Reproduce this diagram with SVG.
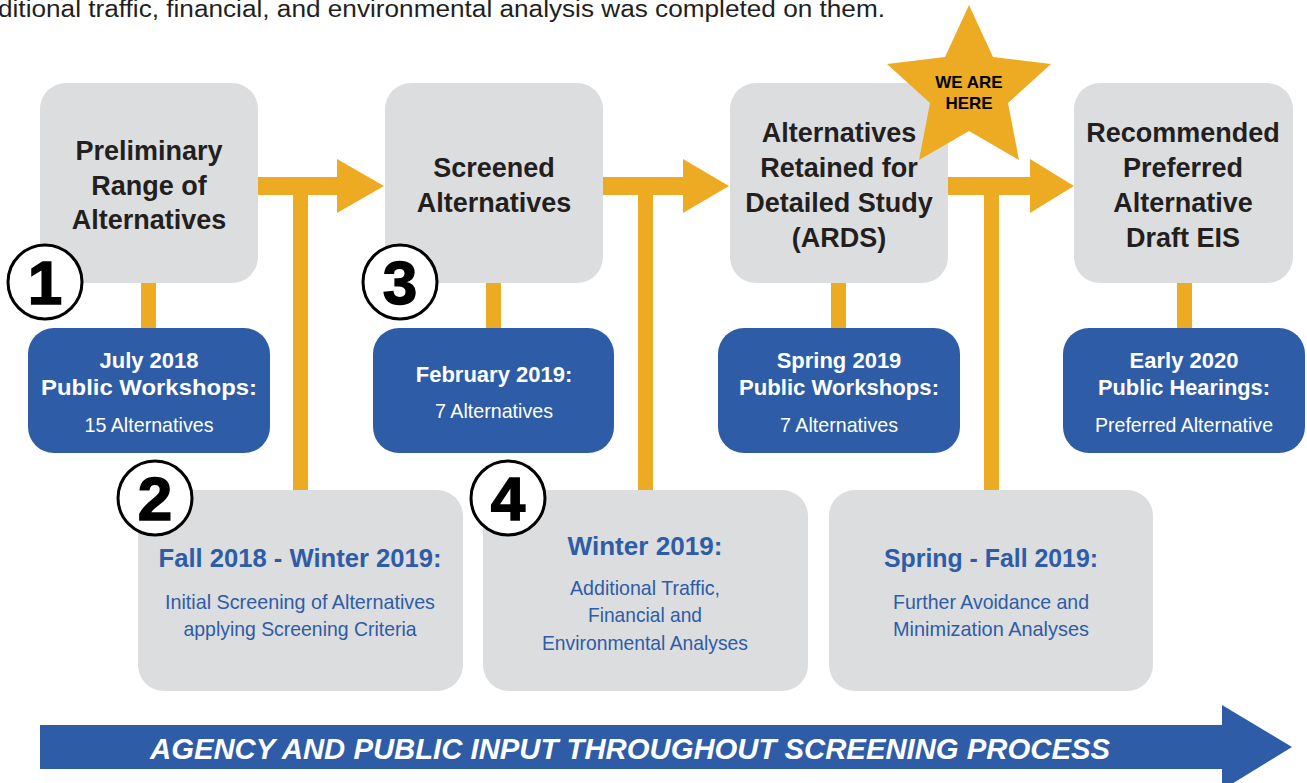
<svg xmlns="http://www.w3.org/2000/svg" width="1307" height="783" viewBox="0 0 1307 783">
<style>
.g{fill:#dcdddf}
.b{fill:#2e5ca6}
.y{fill:#ecab22}
.t{font-family:"Liberation Sans",Arial,sans-serif;font-weight:bold;font-size:27px;fill:#231f20;text-anchor:middle}
.w{font-family:"Liberation Sans",Arial,sans-serif;font-weight:bold;font-size:22px;fill:#fff;text-anchor:middle}
.wr{font-family:"Liberation Sans",Arial,sans-serif;font-size:21px;fill:#fff;text-anchor:middle}
.bh{font-family:"Liberation Sans",Arial,sans-serif;font-weight:bold;font-size:25px;fill:#2e5ca6;text-anchor:middle}
.br{font-family:"Liberation Sans",Arial,sans-serif;font-size:21px;fill:#2e5ca6;text-anchor:middle}
.c{fill:#fff;stroke:#000;stroke-width:3}
.n{font-family:"Liberation Sans",Arial,sans-serif;font-weight:bold;font-size:62px;fill:#000;text-anchor:middle;stroke:#000;stroke-width:1.5}
</style>
<rect width="1307" height="783" fill="#fff"/>
<text x="-2" y="17" font-family="Liberation Sans,Arial,sans-serif" font-size="23" fill="#231f20" textLength="887" lengthAdjust="spacingAndGlyphs">ditional traffic, financial, and environmental analysis was completed on them.</text>

<g id="connectors">
<rect class="y" x="141" y="280" width="15" height="50"/>
<rect class="y" x="486" y="280" width="15" height="50"/>
<rect class="y" x="831" y="280" width="15" height="50"/>
<rect class="y" x="1177" y="280" width="15" height="50"/>
<polygon class="y" points="256,177 337,177 337,159 384,186 337,213 337,195 308,195 308,492 293,492 293,195 256,195"/>
<polygon class="y" points="601,177 683,177 683,159 729,186 683,213 683,195 653,195 653,492 638,492 638,195 601,195"/>
<polygon class="y" points="946,177 1030,177 1030,159 1074,186 1030,213 1030,195 999,195 999,492 984,492 984,195 946,195"/>
</g>

<g id="node-preliminary">
<rect class="g" x="40" y="83" width="218" height="200" rx="26"/>
<text class="t" x="149" y="160">Preliminary</text>
<text class="t" x="149" y="195">Range of</text>
<text class="t" x="149" y="229">Alternatives</text>
</g>
<g id="node-screened">
<rect class="g" x="385" y="83" width="218" height="200" rx="26"/>
<text class="t" x="494" y="177">Screened</text>
<text class="t" x="494" y="212">Alternatives</text>
</g>
<g id="node-ards">
<rect class="g" x="730" y="83" width="218" height="200" rx="26"/>
<text class="t" x="839" y="142">Alternatives</text>
<text class="t" x="839" y="177">Retained for</text>
<text class="t" x="839" y="212">Detailed Study</text>
<text class="t" x="839" y="247">(ARDS)</text>
</g>
<g id="node-recommended">
<rect class="g" x="1074" y="83" width="219" height="200" rx="26"/>
<text class="t" x="1183" y="142">Recommended</text>
<text class="t" x="1183" y="177">Preferred</text>
<text class="t" x="1183" y="212">Alternative</text>
<text class="t" x="1183" y="247">Draft EIS</text>
</g>

<g id="node-july2018">
<rect class="b" x="28" y="328" width="242" height="125" rx="26"/>
<text class="w" x="149" y="368">July 2018</text>
<text class="w" x="149" y="395" textLength="216" lengthAdjust="spacingAndGlyphs">Public Workshops:</text>
<text class="wr" x="149" y="432" textLength="129" lengthAdjust="spacingAndGlyphs">15 Alternatives</text>
</g>
<g id="node-feb2019">
<rect class="b" x="373" y="328" width="241" height="125" rx="26"/>
<text class="w" x="494" y="382">February 2019:</text>
<text class="wr" x="494" y="418" textLength="118" lengthAdjust="spacingAndGlyphs">7 Alternatives</text>
</g>
<g id="node-spring2019">
<rect class="b" x="718" y="328" width="242" height="125" rx="26"/>
<text class="w" x="839" y="368">Spring 2019</text>
<text class="w" x="839" y="395" textLength="200" lengthAdjust="spacingAndGlyphs">Public Workshops:</text>
<text class="wr" x="839" y="432" textLength="118" lengthAdjust="spacingAndGlyphs">7 Alternatives</text>
</g>
<g id="node-early2020">
<rect class="b" x="1063" y="328" width="242" height="125" rx="26"/>
<text class="w" x="1184" y="368">Early 2020</text>
<text class="w" x="1184" y="395" textLength="172" lengthAdjust="spacingAndGlyphs">Public Hearings:</text>
<text class="wr" x="1184" y="432" textLength="178" lengthAdjust="spacingAndGlyphs">Preferred Alternative</text>
</g>

<g id="node-fall2018">
<rect class="g" x="138" y="490" width="325" height="201" rx="26"/>
<text class="bh" x="300" y="567" textLength="283" lengthAdjust="spacingAndGlyphs">Fall 2018 - Winter 2019:</text>
<text class="br" x="300" y="609" textLength="270" lengthAdjust="spacingAndGlyphs">Initial Screening of Alternatives</text>
<text class="br" x="300" y="636" textLength="233" lengthAdjust="spacingAndGlyphs">applying Screening Criteria</text>
</g>
<g id="node-winter2019">
<rect class="g" x="483" y="490" width="325" height="201" rx="26"/>
<text class="bh" x="645" y="555" textLength="155" lengthAdjust="spacingAndGlyphs">Winter 2019:</text>
<text class="br" x="645" y="595" textLength="150" lengthAdjust="spacingAndGlyphs">Additional Traffic,</text>
<text class="br" x="645" y="622" textLength="114" lengthAdjust="spacingAndGlyphs">Financial and</text>
<text class="br" x="645" y="650" textLength="206" lengthAdjust="spacingAndGlyphs">Environmental Analyses</text>
</g>
<g id="node-springfall2019">
<rect class="g" x="829" y="490" width="324" height="201" rx="26"/>
<text class="bh" x="991" y="567" textLength="214" lengthAdjust="spacingAndGlyphs">Spring - Fall 2019:</text>
<text class="br" x="991" y="609" textLength="196" lengthAdjust="spacingAndGlyphs">Further Avoidance and</text>
<text class="br" x="991" y="636" textLength="196" lengthAdjust="spacingAndGlyphs">Minimization Analyses</text>
</g>

<g id="step-1"><circle class="c" cx="45" cy="282" r="37"/><text class="n" x="45" y="304">1</text></g>
<g id="step-2"><circle class="c" cx="155" cy="498" r="37"/><text class="n" x="155" y="520">2</text></g>
<g id="step-3"><circle class="c" cx="400" cy="282" r="37"/><text class="n" x="400" y="304">3</text></g>
<g id="step-4"><circle class="c" cx="508" cy="498" r="37"/><text class="n" x="508" y="520">4</text></g>

<g id="star-we-are-here">
<polygon class="y" points="969,5 993,57 1051,64 1008,103 1019,160 969,131 919,160 930,103 887,64 945,57"/>
<text x="969" y="88" font-family="Liberation Sans,Arial,sans-serif" font-weight="bold" font-size="17" fill="#000" text-anchor="middle">WE ARE</text>
<text x="969" y="109" font-family="Liberation Sans,Arial,sans-serif" font-weight="bold" font-size="17" fill="#000" text-anchor="middle">HERE</text>
</g>

<g id="input-arrow">
<polygon class="b" points="40,725 1222,725 1222,705 1292,747 1222,790 1222,769 40,769"/>
<text x="630" y="759" font-family="Liberation Sans,Arial,sans-serif" font-weight="bold" font-style="italic" font-size="29" fill="#fff" text-anchor="middle" textLength="960" lengthAdjust="spacingAndGlyphs">AGENCY AND PUBLIC INPUT THROUGHOUT SCREENING PROCESS</text>
</g>
</svg>
